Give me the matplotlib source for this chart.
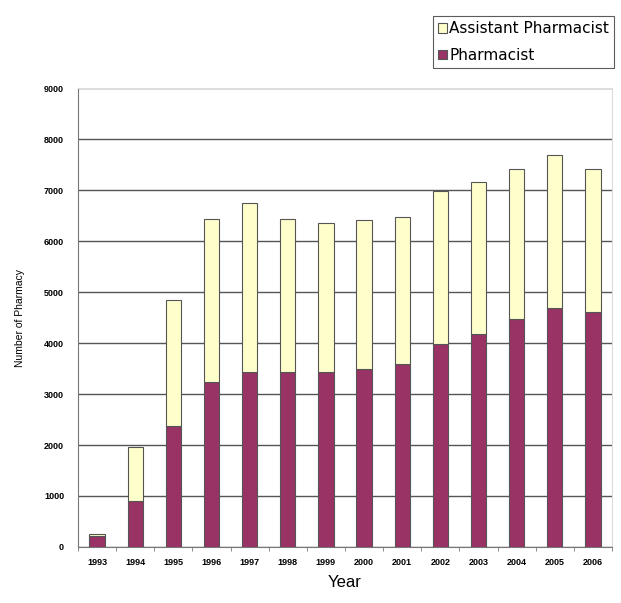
import numpy as np
import matplotlib
matplotlib.use('Agg')
import matplotlib.pyplot as plt

plt.rcParams['font.family'] = ['Liberation Sans', 'DejaVu Sans']

# data
years = ['1993', '1994', '1995', '1996', '1997', '1998', '1999',
         '2000', '2001', '2002', '2003', '2004', '2005', '2006']
pharmacist = [210, 900, 2380, 3230, 3440, 3440, 3440,
              3490, 3590, 3980, 4180, 4470, 4690, 4600]
total = [260, 1970, 4850, 6425, 6740, 6425, 6360,
         6410, 6465, 6990, 7160, 7420, 7680, 7410]
assistant = [t - p for t, p in zip(total, pharmacist)]

col_ph = '#993366'
col_as = '#FFFFCC'
edge = '#555555'

fig = plt.figure(figsize=(6.21, 6.03), dpi=100)
ax = fig.add_axes([0.1256, 0.0929, 0.86, 0.761])

x = np.arange(len(years))
ax.bar(x, pharmacist, width=0.4, color=col_ph, edgecolor=edge,
       linewidth=0.8, label='Pharmacist', zorder=3)
ax.bar(x, assistant, width=0.4, bottom=pharmacist, color=col_as,
       edgecolor=edge, linewidth=0.8, label='Assistant Pharmacist', zorder=3)

ax.set_xlim(-0.5, len(years) - 0.5)
ax.set_ylim(0, 9000)
ax.set_yticks(np.arange(0, 9001, 1000))
ax.yaxis.grid(True, color='#555555', linewidth=1.0)
ax.set_axisbelow(True)
ax.set_xticks(x)
ax.set_xticklabels(years, fontsize=6.5, fontweight='bold')
ax.tick_params(axis='y', labelsize=6.5, length=0, pad=10)
ax.tick_params(axis='x', length=0, pad=8)
for lab in ax.get_yticklabels():
    lab.set_fontweight('bold')
# small category-boundary ticks on the bottom axis
ax.set_xticks(np.arange(-0.5, len(years), 1.0), minor=True)
ax.tick_params(axis='x', which='minor', length=3, color='#777777')

for side in ['top', 'right']:
    ax.spines[side].set_color('#dddddd')
ax.spines['left'].set_color('#777777')
ax.spines['bottom'].set_color('#777777')

ax.set_ylabel('Number of Pharmacy', fontsize=7.5, labelpad=14)
ax.set_xlabel('Year', fontsize=12, labelpad=6)

h, l = ax.get_legend_handles_labels()
leg = fig.legend(h[::-1], l[::-1], loc='upper left',
                 bbox_to_anchor=(433 / 621, 1 - 16 / 603),
                 prop={'family': 'DejaVu Sans', 'size': 11},
                 frameon=True, fancybox=False,
                 handlelength=0.55, handleheight=0.55, handletextpad=0.15,
                 borderpad=0.35, labelspacing=0.75, borderaxespad=0)
leg.get_frame().set_edgecolor('#333333')
leg.get_frame().set_linewidth(0.8)

fig.savefig('out.png', dpi=100)
